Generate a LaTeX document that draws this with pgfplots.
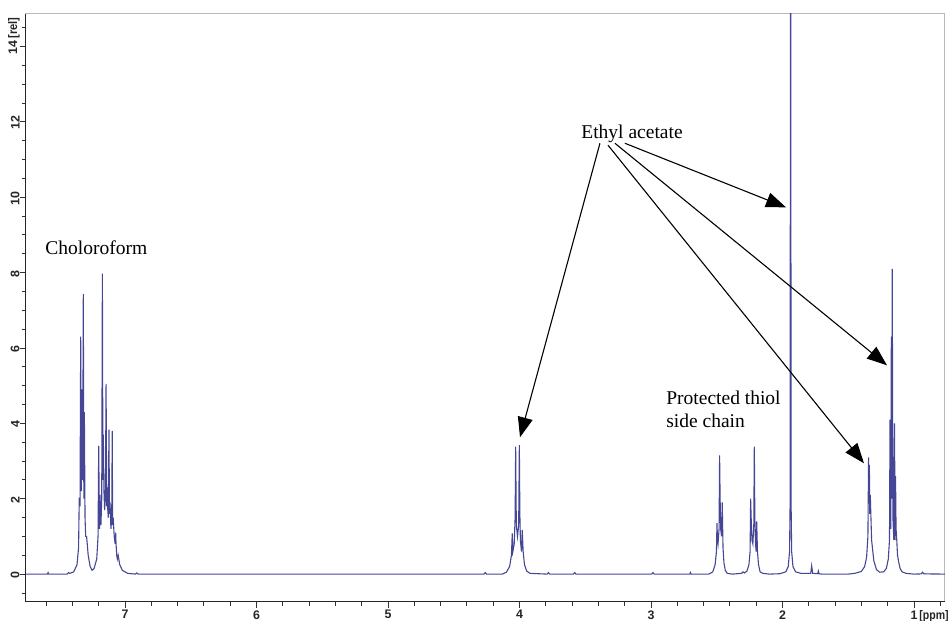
\documentclass[border=0pt]{standalone}
\usepackage{fontspec}
\setmainfont{Liberation Serif}
\newfontfamily\ticksf{Liberation Sans}
\usepackage{pgfplots}
\pgfplotsset{compat=1.18}
\usetikzlibrary{arrows.meta}
\definecolor{spec}{RGB}{70,70,150}
\pgfplotstableread{
x y
0.764 0
0.90 0.005
0.925 0.01
0.935 0.05
0.945 0.005
1.00 0
1.06 0.02
1.09 0.06
1.105 0.15
1.115 0.3
1.125 0.5
1.132 1.0
1.136 1.2
1.140 2.6
1.143 0.9
1.148 4.0
1.153 0.9
1.160 1.5
1.165 8.1
1.168 2.0
1.172 6.3
1.176 1.2
1.182 4.1
1.186 0.9
1.195 0.4
1.21 0.15
1.23 0.06
1.26 0.05
1.285 0.12
1.305 0.35
1.322 0.9
1.332 2.1
1.336 1.6
1.339 2.9
1.342 2.0
1.345 3.1
1.350 1.0
1.36 0.45
1.375 0.2
1.40 0.07
1.45 0.02
1.50 0
1.70 0
1.722 0.01
1.727 0.08
1.732 0.01
1.77 0.02
1.778 0.22
1.785 0.02
1.86 0.02
1.90 0.06
1.92 0.2
1.93 0.6
1.934 1.8
1.938 20
1.942 1.8
1.946 0.6
1.956 0.2
1.975 0.06
2.02 0.01
2.10 0
2.15 0.02
2.17 0.06
2.182 0.25
2.190 0.6
2.196 1.4
2.200 0.6
2.205 0.8
2.210 1.5
2.214 3.38
2.218 1.3
2.225 0.8
2.232 0.9
2.238 1.5
2.242 2.0
2.246 0.6
2.255 0.25
2.27 0.08
2.29 0.03
2.30 0.06
2.31 0.02
2.38 0
2.42 0.02
2.435 0.1
2.445 0.3
2.452 0.7
2.458 1.9
2.463 1.0
2.470 1.2
2.474 2.0
2.478 3.15
2.482 1.2
2.490 0.8
2.494 0.9
2.498 1.35
2.502 0.6
2.512 0.25
2.53 0.06
2.56 0
2.695 0
2.70 0.04
2.705 0
2.975 0
2.985 0.04
2.995 0
3.57 0
3.58 0.04
3.59 0
3.77 0
3.78 0.04
3.79 0
3.92 0.02
3.945 0.08
3.962 0.25
3.972 0.6
3.979 1.17
3.985 0.6
3.993 0.9
3.997 1.6
4.001 3.42
4.006 1.3
4.015 1.0
4.024 1.3
4.029 3.38
4.033 1.5
4.040 0.8
4.050 0.6
4.055 1.08
4.061 0.5
4.075 0.2
4.10 0.05
4.13 0
4.25 0
4.26 0.04
4.27 0
6.90 0
6.91 0.03
6.92 0
6.98 0.02
7.02 0.1
7.04 0.25
7.052 0.5
7.058 0.4
7.063 0.5
7.068 0.8
7.071 1.1
7.075 0.8
7.082 1.0
7.090 1.5
7.094 1.3
7.097 3.8
7.101 1.5
7.107 1.2
7.114 1.9
7.118 1.6
7.122 3.83
7.127 1.5
7.131 1.7
7.134 2.3
7.139 1.8
7.144 5.05
7.149 2.0
7.155 1.7
7.160 2.2
7.165 3.7
7.168 2.5
7.172 7.97
7.177 2.0
7.183 1.3
7.190 2.1
7.194 1.2
7.200 3.4
7.205 1.0
7.215 0.4
7.235 0.15
7.25 0.1
7.265 0.2
7.28 0.5
7.292 1.0
7.299 1.0
7.304 1.5
7.309 4.3
7.313 2.0
7.317 7.43
7.322 2.5
7.329 4.9
7.333 2.2
7.337 6.3
7.342 1.8
7.348 2.03
7.353 0.7
7.365 0.25
7.39 0.06
7.42 0.02
7.43 0.04
7.44 0
7.58 0
7.585 0.04
7.59 0
7.753 0
}\spectrum
\begin{document}
\begin{tikzpicture}
\path[use as bounding box] (-13pt,-9.5pt) rectangle (462pt,301pt);
\begin{axis}[
  name=ax,
  scale only axis, width=459.5pt, height=294pt,
  x dir=reverse,
  xmin=0.764, xmax=7.753, ymin=-0.74, ymax=14.86,
  xtick={1,2,3,4,5,6,7},
  xticklabels={1\rlap{\,\scalebox{0.85}[1]{[ppm]}},2,3,4,5,6,7},
  ytick={0,2,4,6,8,10,12,14},
  yticklabels={0,2,4,6,8,10,12,14\rlap{\,\scalebox{0.9}[1]{[rel]}}},
  minor xtick={0.8,1.2,1.4,1.6,1.8,2.2,2.4,2.6,2.8,3.2,3.4,3.6,3.8,4.2,4.4,4.6,4.8,5.2,5.4,5.6,5.8,6.2,6.4,6.6,6.8,7.2,7.4,7.6},
  minor ytick={-0.5,0.5,1,1.5,2.5,3,3.5,4.5,5,5.5,6.5,7,7.5,8.5,9,9.5,10.5,11,11.5,12.5,13,13.5,14.5},
  tick pos=left, tick align=outside,
  major tick length=3pt, minor tick length=2.2pt,
  tick style={gray!40!black, line width=0.4pt},
  axis line style={gray!55, line width=0.5pt},
  ticklabel style={font=\ticksf\bfseries\fontsize{6.2}{7}\selectfont, text=black!85, inner sep=0pt},
  yticklabel style={rotate=90, anchor=south, xshift=-0.5pt},
  xticklabel style={anchor=north, yshift=-1pt},
  clip mode=individual,
]
\addplot[spec, line width=0.55pt] table[x=x,y=y] {\spectrum};
\node[anchor=west, inner sep=0pt, font=\fontsize{9.75}{11.5}\selectfont] at (axis cs:7.608,8.65) {Choloroform};
\node[anchor=west, inner sep=0pt, font=\fontsize{9.75}{11.5}\selectfont] at (axis cs:3.532,11.67) {Ethyl acetate};
\node[anchor=west, align=left, inner sep=0pt, font=\fontsize{9.75}{11.5}\selectfont] at (axis cs:2.886,4.36) {Protected thiol\\side chain};
\draw[-{Triangle[length=10pt,width=7.5pt]}, line width=0.55pt] (axis cs:3.388,11.43) -- (axis cs:3.996,3.63);
\draw[-{Triangle[length=10pt,width=7.5pt]}, line width=0.55pt] (axis cs:3.198,11.43) -- (axis cs:1.973,9.73);
\draw[-{Triangle[length=10pt,width=7.5pt]}, line width=0.55pt] (axis cs:3.274,11.43) -- (axis cs:1.205,5.54);
\draw[-{Triangle[length=10pt,width=7.5pt]}, line width=0.55pt] (axis cs:3.327,11.38) -- (axis cs:1.380,2.94);
\end{axis}
\draw[gray!30!black, line width=0.5pt] (ax.north west) -- (ax.south west) -- (ax.south east);
\end{tikzpicture}
\end{document}
